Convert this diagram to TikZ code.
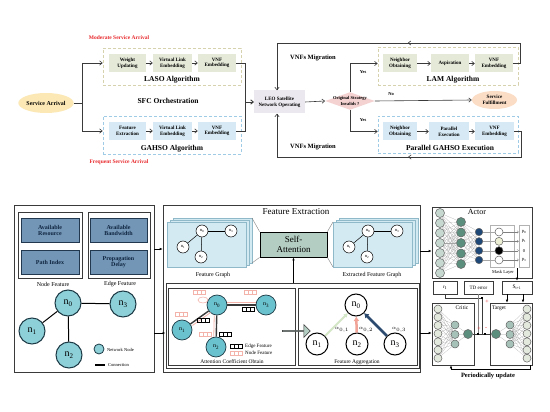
\documentclass[tikz,border=0pt]{standalone}
\usepackage{fontspec}
\setmainfont{Liberation Serif}
\usetikzlibrary{arrows.meta,shapes.geometric,shapes.arrows,decorations.markings,calc}
\newcommand\fsz[2]{\fontsize{#1}{#2}\selectfont}
\definecolor{lasoF}{HTML}{E4E9D8}
\definecolor{lasoD}{HTML}{D6D2AE}
\definecolor{gahF}{HTML}{D6E9F4}
\definecolor{gahD}{HTML}{9FCBE6}
\definecolor{ln}{HTML}{3A3A3A}
\definecolor{saF}{HTML}{FBE8B4}
\definecolor{leoF}{HTML}{ECE8EF}
\definecolor{diaF}{HTML}{F5D2D2}
\definecolor{sfF}{HTML}{FBDDC6}
\definecolor{redT}{HTML}{E8262A}
\definecolor{featF}{HTML}{7396B6}
\definecolor{featD}{HTML}{22384E}
\definecolor{featT}{HTML}{0F2540}
\definecolor{nodeF}{HTML}{8ED0D8}
\definecolor{nodeD}{HTML}{1D3B46}
\definecolor{cardF}{HTML}{D4EAF2}
\definecolor{cardD}{HTML}{8FB8C8}
\definecolor{saBox}{HTML}{B3CDC2}
\definecolor{acoF}{HTML}{6BC2CF}
\definecolor{pinkL}{HTML}{F4B3AA}
\definecolor{greenA}{HTML}{D3E6C6}
\definecolor{salA}{HTML}{F2A397}
\definecolor{navyA}{HTML}{2B4A6E}
\definecolor{l1F}{HTML}{C6D8D0}
\definecolor{l2F}{HTML}{5C8E7E}
\definecolor{l3F}{HTML}{1E4878}
\definecolor{cF}{HTML}{E3E9DD}
\definecolor{cM}{HTML}{A6C2B8}
\definecolor{mY}{HTML}{EEF0D6}
\tikzset{
 conn/.style={draw=ln, line width=0.6pt},
 arr/.style={conn, ->},
 inbox/.style={inner sep=0pt, align=center, font=\fsz{5}{5.8}\bfseries, minimum height=18pt},
 lasoin/.style={inbox, fill=lasoF},
 gahin/.style={inbox, fill=gahF},
 lasobox/.style={draw=lasoD, line width=0.7pt, dash pattern=on 3pt off 2pt, minimum width=138pt, minimum height=37pt, inner sep=0pt},
 gahbox/.style={draw=gahD, line width=0.7pt, dash pattern=on 3pt off 2pt, minimum width=138pt, minimum height=38pt, inner sep=0pt},
 title/.style={font=\fsz{7.5}{8}\bfseries, inner sep=0pt},
 redlab/.style={font=\fsz{5.5}{6}\bfseries, text=redT, inner sep=0pt},
 ell/.style={ellipse, inner sep=0pt, font=\fsz{6}{7}\bfseries, align=center},
 small/.style={font=\fsz{4.5}{5}\bfseries, inner sep=0pt},
 midarrow/.style={postaction={decorate,decoration={markings,mark=at position #1 with {\arrow{>}}}}},
 panel/.style={draw=ln, line width=0.6pt, inner sep=0pt},
 wbox/.style={draw=ln, line width=0.6pt, fill=white, inner sep=0pt},
 fbox/.style={draw=featD, line width=0.8pt, fill=featF, text=featT, font=\fsz{6}{6.8}\bfseries, align=center, minimum width=58pt, minimum height=24pt, inner sep=0pt},
 lab6/.style={font=\fsz{6}{7}, inner sep=0pt},
 bign/.style={circle, fill=nodeF, draw=nodeD, line width=1pt, minimum size=26pt, inner sep=0pt, font=\fsz{10}{10}},
 card/.style={fill=cardF, draw=cardD, line width=0.4pt},
 smalln/.style={circle, fill=white, draw=black, line width=0.5pt, minimum size=12pt, inner sep=0pt, font=\fsz{4.5}{5}},
 acon/.style={circle, fill=acoF, draw=nodeD, line width=0.7pt, minimum size=20pt, inner sep=0pt, font=\fsz{6}{6}},
 fan/.style={circle, fill=white, draw=black, line width=1pt, minimum size=22pt, inner sep=0pt, font=\fsz{10}{10}},
 nn/.style={circle, draw=ln!80, line width=0.5pt, minimum size=9pt, inner sep=0pt},
 wt/.style={draw=gray!70, line width=0.15pt},
 pa/.style={draw=black, line width=0.6pt, -{Latex[length=3pt,width=2.5pt]}},
 tri/.pic={\foreach \k in {0,1,2} \draw[line width=0.5pt] (-6+4*\k,-2) rectangle ++(4,4);}
}
\begin{document}
\begin{tikzpicture}[x=1pt,y=-1pt, >={Straight Barb[length=2.6pt,width=4.2pt]}]
\useasboundingbox[fill=white] (0,0) rectangle (550,412);

% ================= TOP =================
\node[redlab] (mod) at (119,38) {Moderate Service Arrival};
\node[redlab] (freq) at (119,162) {Frequent Service Arrival};
\node[ell, fill=saF, minimum width=51pt, minimum height=20pt] (sa) at (46,103) {Service Arrival};
\node[lasobox] (laso) at (172,66.5) {};
\node[lasoin, minimum width=37pt] (w1) at (127.5,63) {Weight\\Updating};
\node[lasoin, minimum width=39pt] (w2) at (172.5,63) {Virtual Link\\Embedding};
\node[lasoin, minimum width=38pt] (w3) at (217,63) {VNF\\Embedding};
\node[title] (lasot) at (172,80) {LASO Algorithm};
\node[title] (sfc) at (168,101) {SFC Orchestration};
\node[gahbox] (gah) at (172,135) {};
\node[gahin, minimum width=37pt] (g1) at (127.5,131) {Feature\\Extraction};
\node[gahin, minimum width=39pt] (g2) at (172.5,131) {Virtual Link\\Embedding};
\node[gahin, minimum width=38pt] (g3) at (217,131) {VNF\\Embedding};
\node[title] (gaht) at (172,149) {GAHSO Algorithm};
\draw[arr] (sa.east) -- ++(8,0) |- (laso.west |- w1.center);
\draw[arr] (sa.east) -- ++(8,0) |- (gah.west |- g1.center);
\draw[arr] (w1) -- (w2); \draw[arr] (w2) -- (w3);
\draw[arr] (g1) -- (g2); \draw[arr] (g2) -- (g3);
\node[fill=leoF, inner sep=0pt, minimum width=51pt, minimum height=23pt, align=center, font=\fsz{5}{6}\bfseries] (leo) at (279.5,102) {LEO Satellite\\Network Operating};
\draw[arr] (w3.east) -- ++(9,0) |- (leo.west);
\draw[arr] (g3.east) -- ++(9,0) |- (leo.west);
\node[diamond, fill=diaF, aspect=2.8, inner sep=-1pt, align=center, font=\fsz{4.5}{5.2}\bfseries] (dia) at (350,101) {Original Strategy\\Invalids ?};
\draw[arr] (leo.east) -- (dia.west);
\node[lasobox, minimum width=140pt, minimum height=38pt] (lam) at (448,66) {};
\node[lasoin, minimum width=34pt] (l1) at (400,63.5) {Neighbor\\Obtaining};
\node[lasoin, minimum width=38pt] (l2) at (450,63.5) {Aspiration};
\node[lasoin, minimum width=38pt] (l3) at (494,63.5) {VNF\\Embedding};
\node[title] (lamt) at (453,80) {LAM Algorithm};
\node[gahbox, minimum width=140pt, minimum height=37pt] (par) at (448,134.5) {};
\node[gahin, minimum width=34pt] (q1) at (400,131.5) {Neighbor\\Obtaining};
\node[gahin, minimum width=40pt] (q2) at (449,131.5) {Parallel\\Execution};
\node[gahin, minimum width=39pt] (q3) at (494.5,131.5) {VNF\\Embedding};
\node[title] (part) at (450,148) {Parallel GAHSO Execution};
\node[ell, fill=sfF, minimum width=45pt, minimum height=18pt, font=\fsz{5}{5.8}\bfseries] (sf) at (494.5,100) {Service\\Fulfillment};
\draw[arr] (l1) -- (l2); \draw[arr] (l2) -- (l3);
\draw[arr] (q1) -- (q2); \draw[arr] (q2) -- (q3);
\draw[arr] (dia.north) |- (lam.west |- l1.center);
\draw[arr] (dia.south) |- (par.west |- q1.center);
\draw[arr] (dia.east) -- (sf.west);
\node[small] (yes1) at (363,72) {Yes};
\node[small] (yes2) at (363,120) {Yes};
\node[small] (no) at (391,94) {No};
\node[font=\fsz{6.5}{7}\bfseries, inner sep=0pt] (vm1) at (313,58) {VNFs Migration};
\node[font=\fsz{6.5}{7}\bfseries, inner sep=0pt] (vm2) at (313,147) {VNFs Migration};
\coordinate (tl) at (277,43);
\coordinate (bl) at (277,157);
\draw[arr, midarrow=0.44] (l3.east) -- ++(7,0) |- (tl) -- (tl |- leo.north);
\draw[arr, midarrow=0.455] (q3.east) -- ++(7,0) |- (bl) -- (bl |- leo.south);

% ================= BOTTOM LEFT =================
\node[panel, minimum width=140pt, minimum height=167pt] (pA) at (84,288.5) {};
\node[wbox, minimum width=64pt, minimum height=66pt] (nf) at (50,245) {};
\node[fbox] (ar) at (50,230.5) {Available\\Resource};
\node[fbox] (pi) at (50,262) {Path Index};
\node[wbox, minimum width=62pt, minimum height=66pt] (ef) at (119,245) {};
\node[fbox, minimum width=57pt] (ab) at (118.5,230.5) {Available\\Bandwidth};
\node[fbox, minimum width=57pt] (pd) at (118.5,262) {Propagation\\Delay};
\node[lab6] (nfl) at (53,284) {Node Feature};
\node[lab6] (efl) at (120,284) {Edge Feature};
\node[bign] (n0) at (68,303) {n\textsubscript{0}};
\node[bign] (n3) at (123,304) {n\textsubscript{3}};
\node[bign] (n1) at (32,331) {n\textsubscript{1}};
\node[bign] (n2) at (69,355) {n\textsubscript{2}};
\draw[line width=1pt] (n0) -- (n3);
\draw[line width=1pt] (n0) -- (n1);
\draw[line width=1pt] (n0) -- (n2);
\node[circle, fill=nodeF, draw=nodeD, line width=0.8pt, minimum size=10pt, inner sep=0pt] (lgn) at (99,349) {};
\node[font=\fsz{4.5}{5}, anchor=west, inner sep=0pt] (lgnt) at (107,350) {Network Node};
\coordinate (lc1) at (95,365);
\coordinate (lc2) at (105,365);
\draw[line width=1.2pt] (lc1) -- (lc2);
\node[font=\fsz{4.5}{5}, anchor=west, inner sep=0pt] (lgct) at (108,365) {Connection};

% ================= BOTTOM MIDDLE =================
\node[panel, minimum width=257pt, minimum height=167pt] (pB) at (291.5,288.5) {};
\node[font=\fsz{9}{10}, inner sep=0pt] (fet) at (296,212) {Feature Extraction};
\foreach \d in {6,3,0} \draw[card] (167+\d,222-\d*2/3) rectangle ++(79,45);
\foreach \d in {6,3,0} \draw[card] (333+\d,222-\d*2/3) rectangle ++(79,45);
\node[draw=black, line width=0.8pt, fill=saBox, minimum width=67pt, minimum height=25pt, font=\fsz{9}{9.5}, align=center, inner sep=0pt] (sab) at (293.5,244.5) {Self-\\Attention};
\coordinate (fgtr) at (252,218);
\coordinate (fgbr) at (252,263);
\coordinate (efl1) at (333,222);
\coordinate (efl2) at (333,267);
\draw[line width=0.4pt, gray] (fgtr) -- (sab.north west);
\draw[line width=0.4pt, gray] (fgbr) -- (sab.south west);
\draw[line width=0.4pt, gray] (sab.north east) -- (efl1);
\draw[line width=0.4pt, gray] (sab.south east) -- (efl2);
\node[smalln] (f0) at (202,231) {n\textsubscript{0}};
\node[smalln] (f3) at (231,231) {n\textsubscript{3}};
\node[smalln] (f1) at (183,247) {n\textsubscript{1}};
\node[smalln] (f2) at (201,257) {n\textsubscript{2}};
\draw[line width=0.5pt] (f0) -- (f3); \draw[line width=0.5pt] (f0) -- (f1); \draw[line width=0.5pt] (f0) -- (f2);
\node[smalln] (e0) at (368,231) {n\textsubscript{0}};
\node[smalln] (e3) at (397,231) {n\textsubscript{3}};
\node[smalln] (e1) at (349,247) {n\textsubscript{1}};
\node[smalln] (e2) at (367,257) {n\textsubscript{2}};
\draw[line width=0.5pt] (e0) -- (e3); \draw[line width=0.5pt] (e0) -- (e1); \draw[line width=0.5pt] (e0) -- (e2);
\node[lab6] (fgl) at (213,275) {Feature Graph};
\node[lab6] (efgl) at (372,275) {Extracted Feature Graph};
\node[panel, line width=1pt, minimum width=253pt, minimum height=85pt] (low) at (292.5,325.5) {};
\draw[pa] (sab.south |- low.north) -- (sab.south);
\node[panel, minimum width=127pt, minimum height=77pt] (aco) at (231.5,326.5) {};
\node[panel, minimum width=119pt, minimum height=77pt] (fa) at (357.5,326.5) {};
% attention coefficient
\node[acon] (an0) at (217,305) {n\textsubscript{0}};
\node[acon] (an3) at (266,305) {n\textsubscript{3}};
\node[acon] (an1) at (182,330) {n\textsubscript{1}};
\node[acon] (an2) at (216,347) {n\textsubscript{2}};
\draw[pinkL, line width=0.8pt, transform canvas={yshift=2.2pt}] (an0) -- (an3);
\draw[pinkL, line width=0.8pt, transform canvas={xshift=2pt,yshift=-1.5pt}] (an0) -- (an1);
\draw[pinkL, line width=0.8pt, transform canvas={xshift=-2.5pt}] (an0) -- (an2);
\draw[ln, line width=1.4pt] (an0) -- (an3);
\draw[ln, line width=1.4pt] (an0) -- (an1);
\draw[ln, line width=1.4pt] (an0) -- (an2);
\draw[pinkL, line width=0.6pt] (203,300) ellipse (5pt and 3pt);
\pic[pinkL] at (199,292) {tri};
\pic[pinkL] at (250,292) {tri};
\pic[pinkL] at (181,314) {tri};
\pic[pinkL] at (205,334) {tri};
\pic[black] at (248.5,309) {tri};
\pic[black] at (203.5,320) {tri};
\pic[black] at (225,334) {tri};
\pic[black] at (236.5,346) {tri};
\pic[pinkL] at (236.5,353) {tri};
\node[font=\fsz{5}{5.5}, anchor=west, inner sep=0pt] (eft) at (245,346) {Edge Feature};
\node[font=\fsz{5}{5.5}, anchor=west, inner sep=0pt] (nft) at (245,353) {Node Feature};
\node[font=\fsz{5.5}{6}, inner sep=0pt] (acot) at (232,362) {Attention Coefficient Obtain};
\node[single arrow, draw=ln, fill=saBox, line width=0.5pt, minimum height=28pt, minimum width=13pt, single arrow head extend=2.5pt, inner sep=0pt] (barr) at (296,331) {};
% feature aggregation
\node[fan] (g0) at (356,305) {n\textsubscript{0}};
\node[fan] (gg1) at (317,344) {n\textsubscript{1}};
\node[fan] (gg2) at (357,344) {n\textsubscript{2}};
\node[fan] (gg3) at (395,344) {n\textsubscript{3}};
\draw[greenA, line width=2pt, -{Latex[length=4pt,width=5pt]}] (gg1) -- (g0);
\draw[salA, line width=2.5pt, -{Latex[length=4.5pt,width=6pt]}] (gg2) -- (g0);
\draw[navyA, line width=2.5pt, -{Latex[length=4.5pt,width=6pt]}] (gg3) -- (g0);
\node[font=\fsz{5.5}{6}, inner sep=0pt] (al1) at (342,330) {$\alpha_{0,1}$};
\node[font=\fsz{5.5}{6}, inner sep=0pt] (al2) at (366,330) {$\alpha_{0,2}$};
\node[font=\fsz{5.5}{6}, inner sep=0pt] (al3) at (399,330) {$\alpha_{0,3}$};
\node[font=\fsz{5.5}{6}, inner sep=0pt] (fat) at (357,362) {Feature Aggregation};

% ================= BOTTOM RIGHT =================
\node[draw=ln, line width=0.6pt, minimum width=100pt, minimum height=71pt, inner sep=0pt] (act) at (482,242.5) {};
\node[font=\fsz{8}{9}, inner sep=0pt] (actt) at (477,212) {Actor};
\foreach \i in {0,...,6} \node[nn, fill=l1F] (aA\i) at (440,213+10*\i) {};
\foreach \i in {0,...,4} \node[nn, fill=l2F] (aB\i) at (461,222+10.5*\i) {};
\foreach \i in {0,...,3} \node[nn, fill=l3F, minimum size=7.5pt] (aC\i) at (479,232+9.33*\i) {};
\foreach \i in {0,...,6} \foreach \j in {0,...,4} \draw[wt] (aA\i) -- (aB\j);
\foreach \i in {0,...,4} \foreach \j in {0,...,3} \draw[wt] (aB\i) -- (aC\j);
\node[draw=gray!60, line width=0.4pt, minimum width=24pt, minimum height=42pt, inner sep=0pt] (mask) at (502,246) {};
\foreach \i/\c in {0/white,1/mY,2/black,3/white} \node[nn, fill=\c, minimum size=8pt] (m\i) at (499,232+9.33*\i) {};
\foreach \i in {0,...,3} \draw[wt] (aC\i) -- (m\i);
\node[draw=gray!60, line width=0.4pt, minimum width=10pt, minimum height=42pt, inner sep=0pt] (outb) at (524,246) {};
\foreach \i/\t in {0/{p\textsubscript{0}},1/{p\textsubscript{1}},2/{0},3/{p\textsubscript{3}}} \node[font=\fsz{4.5}{5}, inner sep=0pt] (o\i) at (524,232+9.33*\i) {\t};
\foreach \i in {0,...,3} \draw[gray, line width=0.3pt, -{Straight Barb[length=1.5pt,width=2.5pt]}] (m\i) -- (outb.west |- m\i);
\node[font=\fsz{4.5}{5}, inner sep=0pt] (mkl) at (503,272) {Mask Layer};
\node[draw=ln, line width=0.6pt, minimum width=24pt, minimum height=13pt, inner sep=0pt, font=\fsz{5}{5.5}] (rt) at (445,287.5) {r\textsubscript{t}};
\node[draw=ln, line width=0.6pt, minimum width=29pt, minimum height=13pt, inner sep=0pt, font=\fsz{5}{5.5}] (td) at (478.5,287.5) {TD error};
\node[draw=ln, line width=0.6pt, minimum width=30pt, minimum height=13pt, inner sep=0pt, font=\fsz{5.5}{6}] (st) at (517,287.5) {S\textsubscript{t+1}};
\coordinate (mk) at (517,268);
\draw[pa] (mk) -- (st.north);
\node[draw=ln, line width=0.6pt, minimum width=42pt, minimum height=62pt, inner sep=0pt] (crit) at (453,334) {};
\node[draw=ln, line width=0.6pt, minimum width=42pt, minimum height=62pt, inner sep=0pt] (tgt) at (511,334) {};
\node[font=\fsz{5.5}{6}, inner sep=0pt] (critt) at (462,308) {Critic};
\node[font=\fsz{5.5}{6}, inner sep=0pt] (tgtt) at (499,308) {Target};
\foreach \i in {0,...,6} \node[nn, fill=cF, minimum size=8pt] (cA\i) at (438,309+8.2*\i) {};
\foreach \i in {0,1,2} \node[nn, fill=cM, minimum size=8pt] (cB\i) at (455,325+9.5*\i) {};
\node[nn, fill=l2F, minimum size=9pt] (cC) at (468,334) {};
\foreach \i in {0,...,6} \node[nn, fill=cF, minimum size=8pt] (tA\i) at (527,309+8.2*\i) {};
\foreach \i in {0,1,2} \node[nn, fill=cM, minimum size=8pt] (tB\i) at (510,325+9.5*\i) {};
\node[nn, fill=l2F, minimum size=9pt] (tC) at (496,334) {};
\foreach \i in {0,...,6} \foreach \j in {0,1,2} {\draw[wt] (cA\i) -- (cB\j); \draw[wt] (tA\i) -- (tB\j);}
\foreach \j in {0,1,2} {\draw[wt] (cB\j) -- (cC); \draw[wt] (tB\j) -- (tC);}
\draw[pa] ([xshift=-10pt]st.south) -- ([xshift=-10pt]st.south |- tgt.north);
\draw[pa] ([xshift=6pt]st.south) -- ([xshift=6pt]st.south |- tgt.north);
\coordinate (j0) at (482,298);
\coordinate (j1) at (478,334);
\coordinate (j2) at (485,334);
\draw[ln, line width=0.5pt] (cC) -- (tC);
\draw[ln, line width=0.5pt] (rt.south) |- (j0);
\draw[gray, line width=0.5pt] (td.south) -- (td.south |- j1);
\draw[ln, line width=0.5pt] (j0) -- (j0 |- j1);
\node[fill=black, inner sep=0pt, minimum size=2.2pt] (jq0) at (j0) {};
\node[fill=black, inner sep=0pt, minimum size=2.2pt] (jq1) at (j1) {};
\node[fill=black, inner sep=0pt, minimum size=2.2pt] (jq2) at (j2) {};
\node[text=redT, font=\fsz{6}{6}, inner sep=0pt] (pl1) at (487,302) {+};
\node[text=redT, font=\fsz{6}{6}, inner sep=0pt] (pl2) at (479,329) {+};
\node[text=redT, font=\fsz{6}{6}, inner sep=0pt] (mi1) at (486,329) {-};
\coordinate (pu1) at (530,369);
\coordinate (pu2) at (451,369);
\draw[pa] (tgt.south -| pu1) -- (pu1) -- (pu2) -- (pu2 |- crit.south);
\node[font=\fsz{6.5}{7}\bfseries, inner sep=0pt] (put) at (488,376) {Periodically update};

% ================= PANEL CONNECTORS =================
\coordinate (ya) at (0,249);
\coordinate (yb) at (0,251);
\coordinate (yc) at (0,333);
\draw[pa] (pA.east |- ya) -- (pB.west |- ya);
\draw[pa] (pA.east |- yc) -- (low.west |- yc);
\draw[pa] (pB.east |- yb) -- (act.west |- yb);
\draw[pa] (pB.east |- yc) -- (crit.west |- yc);
\end{tikzpicture}
\end{document}
